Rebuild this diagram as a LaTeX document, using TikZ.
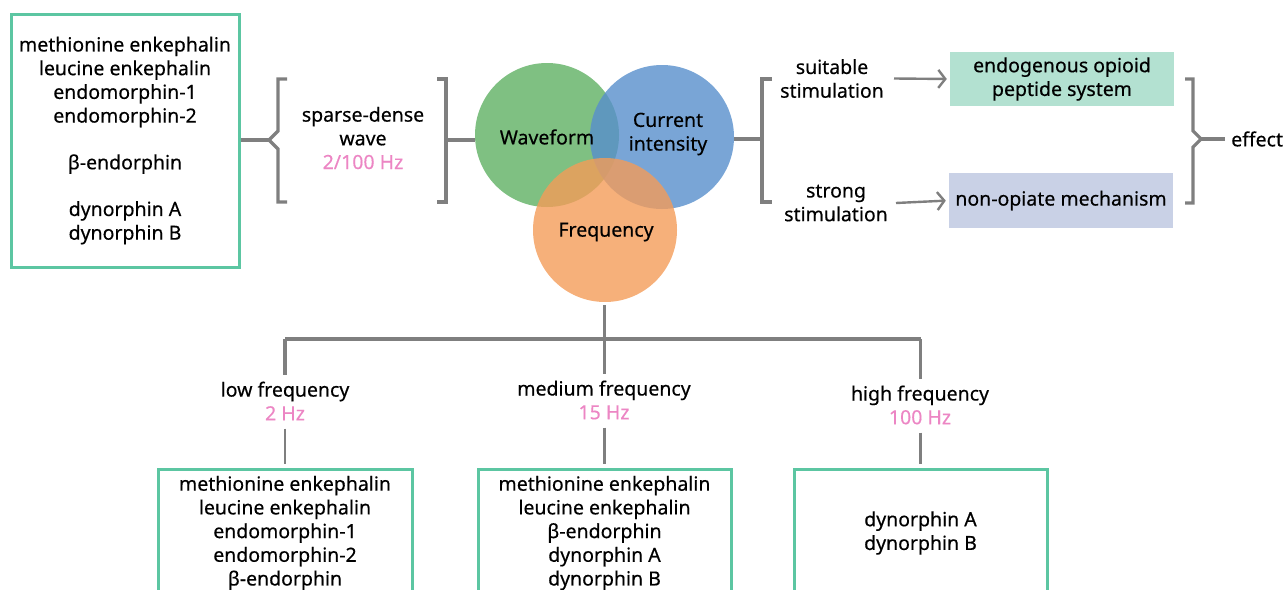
\documentclass[tikz,border=0pt]{standalone}
\usepackage{fontspec}
\setmainfont{Noto Sans}[FakeBold=0.4]
\usetikzlibrary{arrows.meta, positioning}

\definecolor{boxgreen}{HTML}{5CC6A2}
\definecolor{linegray}{HTML}{7F7F7F}
\definecolor{hzpink}{HTML}{EC86C4}
\definecolor{wavegreen}{HTML}{5FB063}
\definecolor{currblue}{HTML}{578FCC}
\definecolor{freqorange}{HTML}{F49C59}
\definecolor{mintfill}{HTML}{B3E1D1}
\definecolor{lilacfill}{HTML}{C9D1E6}

\tikzset{
    txt/.style={align=center, font=\fontsize{19.5}{23.7}\selectfont, inner sep=0pt},
    pepbox/.style={txt, draw=boxgreen, line width=3pt},
    conn/.style={draw=linegray, line width=3.2pt},
    thinconn/.style={draw=linegray, line width=2.4pt},
    arr/.style={draw=linegray, line width=2.4pt, -{Straight Barb[length=7pt,width=18pt]}},
    venn/.style={circle, minimum size=144pt, inner sep=0pt, fill opacity=0.8}
}

\begin{document}
\begin{tikzpicture}[x=1pt, y=-1pt]
    \useasboundingbox (0,0) rectangle (1287,589);
    \clip (0,0) rectangle (1287,589);

    % Venn circles
    \node[venn, fill=wavegreen] (wave) at (547,135) {};
    \node[venn, fill=currblue] (curr) at (662,137) {};
    \node[venn, fill=freqorange] (freq) at (605,230) {};
    \node[txt] (wavetxt) at (547,137) {Waveform};
    \node[txt] (currtxt) at (668,134) {Current\\intensity};
    \node[txt] (freqtxt) at (606,232) {Frequency};

    % Peptide box, top left
    \node[pepbox, minimum width=228pt, minimum height=253pt] (topbox) at (125,140.5)
        {methionine enkephalin\\leucine enkephalin\\endomorphin-1\\endomorphin-2\\[23pt]β-endorphin\\[23pt]dynorphin A\\dynorphin B};

    % Sparse-dense wave bracket
    \coordinate (lnotch) at (269,140);
    \draw[conn] (topbox.east |- lnotch) -- (lnotch);
    \draw[conn] (287,79) -- (278,79) -- (278,131) -- (lnotch) -- (278,149) -- (278,202) -- (287,202);
    \node[txt] (sparse) at (363,138) {sparse-dense\\wave\\{\color{hzpink}2/100 Hz}};
    \coordinate (rmid) at (446,140);
    \draw[conn] (437,79) -- (446,79) -- (446,202) -- (437,202);
    \draw[conn] (rmid) -- (wave.west |- rmid);

    % Stimulation bracket
    \coordinate (smid) at (762,139);
    \draw[conn] (curr.east |- smid) -- (smid);
    \draw[conn] (772,79) -- (762,79) -- (762,202) -- (772,202);
    \node[txt] (suit) at (832,78.5) {suitable\\stimulation};
    \node[txt] (strong) at (836,203) {strong\\stimulation};

    % Mechanisms
    \node[txt, fill=mintfill, minimum width=224pt, minimum height=54pt] (opioid) at (1062,79) {endogenous opioid\\peptide system};
    \node[txt, fill=lilacfill, minimum width=224pt, minimum height=55pt] (nonop) at (1061,200.5) {non-opiate mechanism};
    \draw[arr, shorten >=3pt] ([xshift=10pt]suit.east) -- (opioid.west);
    \draw[arr, shorten >=3pt] ([xshift=8pt]strong.east) -- (nonop.west);

    % Effect brace
    \coordinate (enotch) at (1201,139);
    \draw[conn] (1185,79) -- (1193,79) -- (1193,131) -- (enotch) -- (1193,147) -- (1193,203) -- (1185,203);
    \node[txt, anchor=west] (effect) at (1231,139) {effect};
    \draw[conn, shorten >=6pt] (enotch) -- (effect.west);

    % Frequency branches
    \node[txt] (low) at (285,401) {low frequency\\{\color{hzpink}2 Hz}};
    \node[txt] (medium) at (604,400) {medium frequency\\{\color{hzpink}15 Hz}};
    \node[txt] (high) at (920,405) {high frequency\\{\color{hzpink}100 Hz}};

    \node[pepbox, minimum width=254pt, minimum height=128pt] (lowbox) at (285,533)
        {methionine enkephalin\\leucine enkephalin\\endomorphin-1\\endomorphin-2\\β-endorphin};
    \node[pepbox, minimum width=253pt, minimum height=128pt] (medbox) at (604.5,533)
        {methionine enkephalin\\leucine enkephalin\\β-endorphin\\dynorphin A\\dynorphin B};
    \node[pepbox, minimum width=253pt, minimum height=128pt] (highbox) at (920.5,533)
        {dynorphin A\\dynorphin B};

    \coordinate (fork) at (604.5,339);
    \draw[conn, shorten <=3pt] (fork |- freq.south) -- (fork);
    \draw[conn] (lowbox.north |- fork) -- (highbox.north |- fork);
    \foreach \b/\l in {lowbox/low, medbox/medium, highbox/high} {
        \draw[conn, shorten >=6pt] (\b.north |- fork) -- (\b.north |- \l.north);
        \draw[thinconn, shorten <=8pt, shorten >=4pt] (\b.north |- \l.south) -- (\b.north);
    }
\end{tikzpicture}
\end{document}
